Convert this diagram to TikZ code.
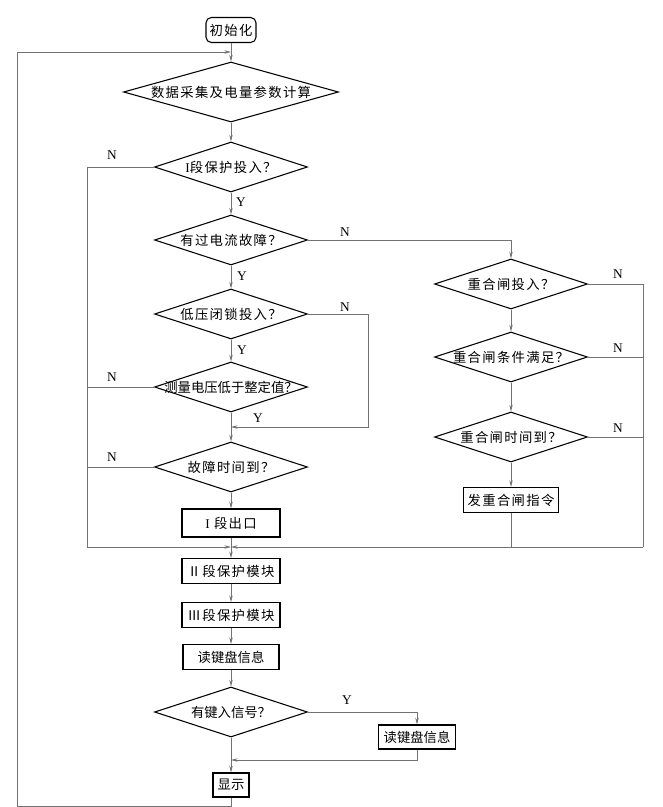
\documentclass[tikz,border=0pt]{standalone}
\usepackage{fontspec}
\setmainfont{Liberation Serif}
\newfontfamily\cjk{Noto Sans CJK SC}
\newfontfamily\cjksp[LetterSpace=10]{Noto Sans CJK SC}
\usetikzlibrary{arrows.meta,shapes.geometric}

\tikzset{
	decision/.style={diamond, draw, line width=0.8pt, inner sep=0pt,
		minimum width=114.75pt, minimum height=37.5pt, label={center:#1}},
	process/.style={rectangle, draw, line width=0.8pt, inner sep=0pt,
		minimum width=73.5pt, minimum height=18.5pt},
	flow/.style={draw=black!55, line width=0.55pt},
	arr/.style={flow, -{Stealth[length=5pt, width=2.6pt]}},
	yn/.style={font=\fontsize{10}{12}\selectfont},
}

\begin{document}
\begin{tikzpicture}[x=0.75pt, y=-0.75pt]

\def\mx{231}
\def\rx{511}
\def\lx{87}
\def\ox{17}
\def\ex{643}
\def\nx{368}

\fontsize{10}{12}\selectfont
\path [use as bounding box] (0,0) rectangle (662,807);

% MAIN COLUMN
\node [process, rounded corners=4pt, minimum width=37.5pt, minimum height=18.75pt] (init) at (\mx,30) {\cjksp 初始化};
\node [decision={\cjksp 数据采集及电量参数计算}, minimum width=161.25pt, minimum height=45pt] (d1) at (\mx,92) {};
\node [decision={{\rmfamily I}\cjksp 段保护投入？}] (d2) at (\mx,167) {};
\node [decision={\cjksp 有过电流故障？}] (d3) at (\mx,240) {};
\node [decision={\cjksp 低压闭锁投入？}] (d4) at (\mx,314) {};
\node [decision={\cjk 测量电压低于整定值？}] (d5) at (\mx,387) {};
\node [decision={\cjksp 故障时间到？}] (d6) at (\mx,467) {};
\node [process, minimum height=21pt] (out1) at (\mx,523) {{\rmfamily I}\cjksp\ 段出口};
\node [process] (mod2) at (\mx,571) {\cjksp Ⅱ段保护模块};
\node [process] (mod3) at (\mx,615) {\cjksp Ⅲ段保护模块};
\node [process, minimum width=72pt] (key1) at (\mx,657) {\cjk 读键盘信息};
\node [decision={\cjk 有键入信号？}] (d10) at (\mx,712) {};
\node [process, minimum width=27pt, minimum height=18pt] (disp) at (\mx,785) {\cjk 显示};

% RECLOSE COLUMN
\node [decision={\cjksp 重合闸投入？}] (d7) at (\rx,284) {};
\node [decision={\cjksp 重合闸条件满足？}] (d8) at (\rx,357) {};
\node [decision={\cjksp 重合闸时间到？}] (d9) at (\rx,437) {};
\node [process, minimum width=71.25pt, minimum height=18.75pt] (cmd) at (\rx,500) {\cjksp 发重合闸指令};
\node [process, minimum width=57.75pt, minimum height=18pt] (key2) at (417,737) {\cjk 读键盘信息};

% JOINTS
\coordinate (top) at (\mx,52);
\coordinate (j1) at (\mx,427);
\coordinate (m1) at (\mx,547);
\coordinate (ml) at (\lx,547);
\coordinate (mr) at (\ex,547);
\coordinate (nr) at (\nx,427);
\coordinate (j2) at (\mx,760);
\coordinate (bl) at (\ox,806);

% FLOW
\draw [arr] (init) -- (d1);
\draw [arr] (d1) -- (d2);
\draw [arr] (d2) -- (d3);
\draw [arr] (d3) -- (d4);
\draw [arr] (d4) -- (d5);
\draw [arr] (d5) -- (d6);
\draw [arr] (d6) -- (out1);
\draw [arr] (out1) -- (mod2);
\draw [arr] (mod2) -- (mod3);
\draw [arr] (mod3) -- (key1);
\draw [arr] (key1) -- (d10);
\draw [arr] (d10) -- (disp);
\draw [arr] (d7) -- (d8);
\draw [arr] (d8) -- (d9);
\draw [arr] (d9) -- (cmd);

% BRANCHES
\draw [arr] (d2.west) -| (ml) -- (m1);
\draw [flow] (d5.west) -- (d5.west -| ml);
\draw [flow] (d6.west) -- (d6.west -| ml);
\draw [arr] (d3.east) -| (d7.north);
\draw [arr] (d4.east) -| (nr) -- (j1);
\draw [flow] (d7.east) -| (mr);
\draw [flow] (d8.east) -- (d8.east -| mr);
\draw [flow] (d9.east) -- (d9.east -| mr);
\draw [arr] (mr) -- (m1);
\draw [flow] (cmd.south) -- (cmd.south |- m1);
\draw [arr] (d10.east) -| (key2.north);
\draw [arr] (key2.south) |- (j2);
\draw [arr] (disp.south) |- (bl) |- (top);

% LABELS
\node [yn] (n2) at (112,155) {N};
\node [yn] (y2) at (241,202) {Y};
\node [yn] (n3) at (345,232) {N};
\node [yn] (y3) at (242,276) {Y};
\node [yn] (n4) at (345,307) {N};
\node [yn] (y4) at (242,350) {Y};
\node [yn] (n5) at (112,377) {N};
\node [yn] (y5) at (258,418) {Y};
\node [yn] (n6) at (112,457) {N};
\node [yn] (n7) at (618,274) {N};
\node [yn] (n8) at (618,348) {N};
\node [yn] (n9) at (618,428) {N};
\node [yn] (y10) at (347,700) {Y};

\end{tikzpicture}
\end{document}
